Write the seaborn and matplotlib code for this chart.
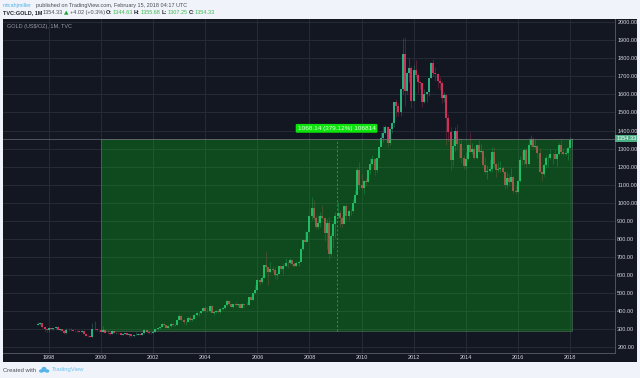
import numpy as np
import pandas as pd
import matplotlib
matplotlib.use("Agg")
import matplotlib.pyplot as plt
from matplotlib.patches import Rectangle, Ellipse, Polygon
import seaborn as sns

# monthly candles, aug 1997 -> feb 2018
closes = [
    325, 332, 311, 296, 290,
    304, 298, 301, 309, 293, 296, 288, 273, 294, 292, 294, 288,
    287, 287, 280, 286, 268, 261, 256, 254, 299, 299, 291, 290,
    283, 293, 277, 274, 272, 288, 276, 277, 273, 264, 270, 274,
    266, 267, 258, 264, 266, 271, 265, 273, 293, 279, 275, 277,
    282, 296, 302, 309, 327, 318, 304, 312, 323, 317, 319, 347,
    368, 347, 336, 337, 361, 346, 354, 375, 385, 386, 398, 416,
    400, 397, 426, 388, 394, 395, 391, 408, 415, 428, 453, 438,
    422, 434, 428, 436, 414, 437, 429, 433, 473, 459, 495, 513,
    569, 556, 582, 654, 643, 614, 632, 625, 599, 603, 646, 632,
    650, 665, 662, 679, 659, 650, 665, 672, 743, 789, 783, 834,
    923, 972, 916, 864, 885, 927, 912, 833, 884, 716, 815, 880,
    927, 942, 916, 883, 979, 927, 955, 955, 996, 1040, 1182, 1097,
    1081, 1118, 1115, 1180, 1213, 1244, 1181, 1248, 1308, 1359, 1386, 1421,
    1332, 1411, 1439, 1556, 1536, 1502, 1628, 1826, 1622, 1722, 1746, 1565,
    1737, 1711, 1669, 1664, 1560, 1604, 1614, 1692, 1776, 1719, 1712, 1675,
    1663, 1578, 1595, 1472, 1393, 1235, 1313, 1396, 1327, 1323, 1250, 1201,
    1240, 1321, 1283, 1295, 1245, 1322, 1282, 1287, 1210, 1171, 1175, 1184,
    1283, 1212, 1183, 1184, 1190, 1172, 1095, 1134, 1115, 1142, 1065, 1060,
    1118, 1238, 1234, 1293, 1214, 1320, 1351, 1309, 1316, 1273, 1172, 1159,
    1211, 1249, 1249, 1268, 1268, 1242, 1269, 1321, 1280, 1270, 1275, 1303,
    1345, 1354.33,
]
highs = [
    335, 337, 333, 315, 298,
    306, 305, 305, 316, 312, 300, 298, 292, 301, 304, 302, 296,
    293, 293, 290, 293, 290, 268, 264, 260, 330, 340, 300, 292,
    292, 316, 296, 290, 281, 293, 288, 282, 279, 275, 272, 277,
    274, 270, 268, 267, 278, 276, 271, 277, 300, 293, 284, 280,
    284, 298, 304, 310, 328, 330, 320, 320, 328, 327, 324, 350,
    383, 375, 352, 342, 372, 368, 359, 378, 392, 390, 400, 418,
    426, 420, 428, 430, 398, 401, 411, 412, 420, 430, 456, 457,
    430, 438, 446, 438, 434, 443, 430, 446, 476, 480, 496, 540,
    575, 575, 590, 655, 732, 640, 670, 650, 640, 610, 650, 640,
    665, 690, 675, 690, 685, 670, 675, 680, 745, 790, 840, 840,
    930, 1030, 1015, 925, 930, 945, 985, 915, 910, 920, 830, 890,
    945, 1005, 960, 925, 985, 990, 960, 965, 1020, 1070, 1195, 1225,
    1160, 1125, 1135, 1180, 1250, 1265, 1250, 1250, 1310, 1390, 1425, 1430,
    1425, 1412, 1445, 1558, 1577, 1555, 1632, 1915, 1920, 1725, 1805, 1760,
    1765, 1790, 1720, 1675, 1665, 1630, 1620, 1692, 1780, 1795, 1755, 1720,
    1695, 1675, 1615, 1600, 1490, 1420, 1345, 1420, 1435, 1360, 1360, 1265,
    1280, 1332, 1392, 1330, 1315, 1325, 1345, 1325, 1290, 1255, 1210, 1240,
    1308, 1308, 1220, 1225, 1230, 1205, 1175, 1170, 1158, 1190, 1145, 1090,
    1125, 1260, 1285, 1305, 1305, 1360, 1375, 1365, 1355, 1320, 1305, 1175,
    1220, 1265, 1265, 1296, 1275, 1298, 1270, 1331, 1358, 1305, 1300, 1307,
    1365, 1355.68,
]
lows = [
    318, 320, 305, 283, 282,
    278, 289, 291, 298, 290, 285, 285, 272, 272, 288, 288, 285,
    283, 283, 278, 278, 267, 256, 252, 251, 252, 290, 288, 281,
    281, 279, 274, 270, 264, 270, 275, 270, 268, 263, 263, 268,
    262, 255, 255, 255, 262, 263, 265, 263, 271, 277, 272, 272,
    277, 281, 290, 300, 309, 315, 303, 302, 311, 313, 315, 320,
    352, 344, 325, 319, 336, 342, 341, 351, 370, 370, 382, 398,
    390, 393, 390, 385, 375, 384, 387, 385, 403, 410, 425, 435,
    421, 412, 425, 420, 414, 414, 417, 429, 431, 456, 456, 494,
    514, 540, 555, 582, 610, 543, 610, 615, 573, 573, 603, 617,
    602, 640, 636, 658, 650, 641, 650, 648, 670, 734, 780, 786,
    845, 905, 905, 851, 855, 862, 906, 786, 740, 680, 705, 750,
    805, 915, 865, 865, 885, 905, 905, 930, 950, 1000, 1045, 1075,
    1070, 1050, 1090, 1115, 1160, 1210, 1155, 1170, 1246, 1315, 1335, 1380,
    1310, 1320, 1385, 1420, 1475, 1480, 1480, 1600, 1535, 1605, 1670, 1525,
    1565, 1690, 1610, 1630, 1530, 1550, 1560, 1590, 1690, 1705, 1675, 1635,
    1625, 1555, 1560, 1320, 1340, 1180, 1205, 1285, 1295, 1250, 1222, 1185,
    1185, 1238, 1278, 1270, 1240, 1240, 1282, 1275, 1205, 1160, 1132, 1170,
    1170, 1198, 1142, 1170, 1172, 1165, 1077, 1080, 1098, 1115, 1052, 1045,
    1060, 1112, 1208, 1210, 1200, 1208, 1310, 1305, 1303, 1245, 1172, 1122,
    1150, 1189, 1195, 1240, 1215, 1240, 1205, 1265, 1270, 1262, 1265, 1236,
    1302, 1307.25,
]
first_open = 322
price_ticks = list(range(200, 2100, 100))
year_ticks = list(range(1998, 2020, 2))
last_price = 1354.33
range_delta = 1068.14

# -------------------- candles to long form --------------------
opens = [first_open] + closes[:-1]
times = 1997 + (7 + np.arange(len(closes))) / 12
direction = ["up" if c >= o else "down" for o, c in zip(opens, closes)]

wicks = pd.DataFrame({
    "t": np.repeat(times, 2),
    "price": np.column_stack([lows, highs]).ravel(),
    "candle": np.repeat(np.arange(len(times)), 2),
    "dir": np.repeat(direction, 2),
})
bodies = pd.DataFrame({
    "t": np.repeat(times, 2),
    "price": np.column_stack([opens, closes]).ravel(),
    "candle": np.repeat(np.arange(len(times)), 2),
    "dir": np.repeat(direction, 2),
})

# -------------------- figure --------------------
sns.set_theme(style="dark")
plt.rcParams["font.family"] = ["Liberation Sans", "DejaVu Sans"]

fig = plt.figure(figsize=(6.4, 3.78), dpi=100, facecolor="#f0f3fa")

# pixel canvas for the chrome around the chart
bg = fig.add_axes([0, 0, 1, 1], zorder=0)
bg.set_xlim(0, 640)
bg.set_ylim(378, 0)
bg.axis("off")
bg.add_patch(Rectangle((3, 19), 634, 343, fc="#131722", ec="none"))

ax = fig.add_axes([3 / 640, 1 - 353 / 378, 611.7 / 640, 334 / 378], zorder=1)
ax.patch.set_alpha(0)
ax.set_xlim(1996.234, 2019.72)
ax.set_ylim(164, 2019.4)
ax.grid(True, color="#272b36", lw=0.7)
ax.set_axisbelow(True)
ax.set_xticks(year_ticks)
ax.set_yticks(price_ticks)
ax.set_yticklabels([f"{p:.2f}" for p in price_ticks])
ax.yaxis.tick_right()
ax.tick_params(axis="both", length=0, labelsize=4.0, labelcolor="#d4d6dc")
ax.tick_params(axis="y", pad=1.8)
ax.tick_params(axis="x", pad=1.4)
for side in ["left", "top"]:
    ax.spines[side].set_visible(False)
for side in ["right", "bottom"]:
    ax.spines[side].set_color("#50535e")
    ax.spines[side].set_linewidth(0.7)

palette = {"up": "#2ab884", "down": "#d8325c"}
sns.lineplot(data=wicks, x="t", y="price", units="candle", estimator=None, hue="dir",
             palette=palette, lw=0.55, alpha=0.4, legend=False, solid_capstyle="butt", ax=ax)
sns.lineplot(data=bodies, x="t", y="price", units="candle", estimator=None, hue="dir",
             palette=palette, lw=1.35, legend=False, solid_capstyle="butt", ax=ax)
ax.set_xlabel("")
ax.set_ylabel("")

# measured range box
box_left, box_right = 2000.0, times[-1]
box_mid = (box_left + box_right) / 2
ax.axhspan(last_price - range_delta, last_price, xmin=(box_left - 1996.234) / (2019.72 - 1996.234),
           xmax=(box_right - 1996.234) / (2019.72 - 1996.234), fc=(0, 0.89, 0.08, 0.25),
           ec=(0.6, 0.7, 0.6, 0.4), lw=0.5, zorder=5)
ax.plot([box_mid, box_mid], [last_price - range_delta, last_price], color="#6f8f78", lw=0.5,
        ls=(0, (3, 3)), zorder=6)
ax.axhline(last_price, color="#6b6f78", lw=0.7, alpha=0.7, zorder=6)
ax.text(box_mid, 1412, f"{range_delta:.2f} (379.12%) 106814", color="#e8ffe8", fontsize=4.6,
        ha="center", va="center", zorder=8,
        bbox=dict(boxstyle="round,pad=0.3,rounding_size=0.2", fc="#0be30b", ec="none"))

# last price tag
ax.add_patch(Rectangle((1, last_price - 19), 0.036, 38, transform=ax.get_yaxis_transform(),
                       fc="#4caf84", ec="none", clip_on=False, zorder=7))
ax.text(1.0035, last_price, f"{last_price:.2f}", transform=ax.get_yaxis_transform(), color="white",
        fontsize=4.0, va="center", ha="left", zorder=8)

# -------------------- header and footer --------------------
def put(x, y, s, color, size=4.0, weight="normal"):
    bg.text(x, y, s, color=color, fontsize=size, fontweight=weight, ha="left", va="center")

green = "#3fb950"
put(3, 5, "micahjmiller", "#55b4e8")
put(35.5, 5, "published on TradingView.com, February 15, 2018 04:17 UTC", "#4a4d55")
put(3, 12.7, "TVC:GOLD, 1M", "#202228", weight="bold")
put(43, 12.7, "1354.33", "#4a4d55")
bg.add_patch(Polygon([[64, 14.7], [68.5, 14.7], [66.2, 10.6]], fc="#1fa53a", ec="none"))
put(70, 12.7, "+4.02 (+0.3%)", "#4a4d55")
put(106, 12.7, "O:", "#202228", weight="bold")
put(112.7, 12.7, "1344.63", green)
put(133.5, 12.7, "H:", "#202228", weight="bold")
put(140.7, 12.7, "1355.68", green)
put(162, 12.7, "L:", "#202228", weight="bold")
put(167.7, 12.7, "1307.25", green)
put(189, 12.7, "C:", "#202228", weight="bold")
put(195, 12.7, "1354.33", green)
put(6.7, 26.8, "GOLD (US$/OZ), 1M, TVC", "#9a9da5")

put(3, 370, "Created with", "#4a4d55", size=4.2)
for cx, cy, w, h in [(41.5, 371, 5, 3.4), (44, 369.3, 5, 5), (47, 371, 4.6, 3.4)]:
    bg.add_patch(Ellipse((cx, cy), w, h, fc="#55b4e8", ec="none"))
put(52, 370, "TradingView", "#6cc3ee", size=4.2)

fig.savefig("out.png", dpi=100, facecolor=fig.get_facecolor())
